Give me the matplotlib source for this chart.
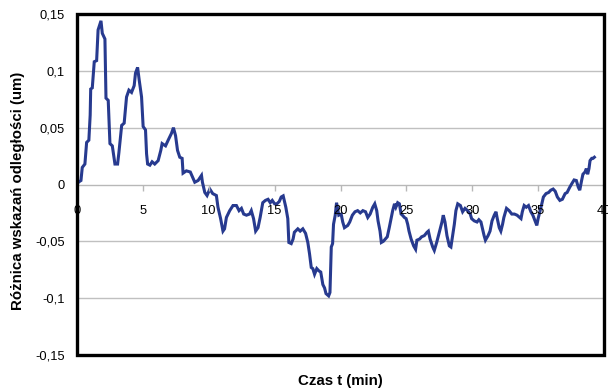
import matplotlib
matplotlib.use("Agg")
import matplotlib.pyplot as plt
from matplotlib.patches import Rectangle

time_min = [0.0, 0.1, 0.3, 0.4, 0.6, 0.73, 0.9, 1.0, 1.04, 1.16, 1.31, 1.49, 1.6, 1.82, 1.92, 2.12,
            2.2, 2.37, 2.5, 2.68, 2.88, 3.08, 3.18, 3.39, 3.58, 3.76, 3.94, 4.14, 4.34, 4.44, 4.6, 4.72,
            4.9, 5.02, 5.2, 5.28, 5.36, 5.53, 5.7, 5.9, 6.16, 6.36, 6.46, 6.72, 6.92, 7.17, 7.32, 7.48,
            7.63, 7.8, 7.98, 8.05, 8.3, 8.6, 8.94, 9.19, 9.45, 9.52, 9.7, 9.87, 10.08, 10.3, 10.58, 10.7,
            10.9, 11.08, 11.2, 11.34, 11.59, 11.84, 12.1, 12.3, 12.48, 12.65, 12.86, 13.1, 13.23, 13.4, 13.56, 13.74,
            13.9, 14.1, 14.3, 14.5, 14.67, 14.82, 15.0, 15.17, 15.35, 15.5, 15.65, 15.85, 16.0, 16.08, 16.26, 16.4,
            16.5, 16.76, 16.94, 17.14, 17.35, 17.52, 17.65, 17.78, 17.9, 18.03, 18.2, 18.36, 18.5, 18.66, 18.79, 18.9,
            19.1, 19.2, 19.3, 19.4, 19.47, 19.6, 19.7, 19.87, 20.05, 20.17, 20.3, 20.55, 20.7, 20.8, 20.9, 21.1,
            21.3, 21.5, 21.7, 21.9, 22.07, 22.25, 22.45, 22.6, 22.75, 22.85, 23.0, 23.1, 23.25, 23.4, 23.55, 23.7,
            23.84, 23.96, 24.1, 24.2, 24.34, 24.47, 24.6, 24.7, 24.85, 24.98, 25.1, 25.2, 25.36, 25.55, 25.7, 25.8,
            26.0, 26.16, 26.36, 26.57, 26.67, 26.8, 27.0, 27.12, 27.3, 27.5, 27.7, 27.8, 27.93, 28.08, 28.26, 28.38,
            28.5, 28.64, 28.76, 28.9, 29.1, 29.27, 29.45, 29.65, 29.85, 29.95, 30.15, 30.36, 30.5, 30.66, 30.78, 30.9,
            31.0, 31.2, 31.35, 31.5, 31.67, 31.8, 31.9, 32.05, 32.17, 32.3, 32.4, 32.6, 32.8, 33.0, 33.2, 33.4,
            33.6, 33.7, 33.8, 33.94, 34.1, 34.27, 34.45, 34.6, 34.77, 34.9, 35.0, 35.13, 35.28, 35.4, 35.6, 35.8,
            35.96, 36.14, 36.3, 36.46, 36.65, 36.84, 37.05, 37.2, 37.4, 37.55, 37.73, 37.9, 38.05, 38.16, 38.3, 38.4,
            38.56, 38.66, 38.76, 38.86, 38.94, 39.07, 39.17, 39.27]

diff_um = [0.0, 0.002, 0.0035, 0.015, 0.018, 0.037, 0.039, 0.061, 0.084, 0.085, 0.108, 0.109, 0.136, 0.144, 0.133, 0.128,
           0.076, 0.074, 0.036, 0.034, 0.018, 0.018, 0.028, 0.052, 0.054, 0.077, 0.083, 0.081, 0.087, 0.098, 0.103, 0.092,
           0.077, 0.051, 0.048, 0.027, 0.018, 0.017, 0.020, 0.018, 0.021, 0.030, 0.036, 0.034, 0.039, 0.045, 0.050, 0.043,
           0.030, 0.024, 0.023, 0.010, 0.012, 0.011, 0.002, 0.0035, 0.008, 0.002, -0.007, -0.0097, -0.004, -0.008, -0.0097, -0.020,
           -0.030, -0.041, -0.039, -0.029, -0.023, -0.0185, -0.0185, -0.023, -0.021, -0.026, -0.027, -0.026, -0.023, -0.030, -0.041, -0.038,
           -0.029, -0.016, -0.014, -0.013, -0.016, -0.014, -0.017, -0.017, -0.015, -0.011, -0.010, -0.020, -0.030, -0.051, -0.052, -0.048,
           -0.042, -0.039, -0.041, -0.039, -0.043, -0.051, -0.061, -0.073, -0.074, -0.079, -0.074, -0.076, -0.077, -0.088, -0.091, -0.096,
           -0.098, -0.095, -0.055, -0.052, -0.035, -0.027, -0.016, -0.027, -0.026, -0.033, -0.038, -0.036, -0.033, -0.030, -0.027, -0.024,
           -0.023, -0.025, -0.023, -0.024, -0.029, -0.026, -0.020, -0.017, -0.023, -0.032, -0.041, -0.051, -0.050, -0.048, -0.046, -0.038,
           -0.030, -0.023, -0.017, -0.020, -0.016, -0.017, -0.026, -0.027, -0.029, -0.030, -0.035, -0.041, -0.048, -0.054, -0.057, -0.049,
           -0.048, -0.046, -0.045, -0.042, -0.041, -0.048, -0.055, -0.058, -0.051, -0.042, -0.033, -0.027, -0.033, -0.045, -0.054, -0.055,
           -0.046, -0.035, -0.023, -0.017, -0.0185, -0.024, -0.021, -0.023, -0.026, -0.030, -0.032, -0.033, -0.031, -0.033, -0.039, -0.045,
           -0.049, -0.045, -0.041, -0.032, -0.027, -0.024, -0.030, -0.038, -0.041, -0.035, -0.029, -0.021, -0.023, -0.026, -0.026, -0.027,
           -0.029, -0.030, -0.024, -0.0185, -0.020, -0.0185, -0.024, -0.027, -0.032, -0.036, -0.030, -0.024, -0.017, -0.011, -0.008, -0.007,
           -0.005, -0.004, -0.006, -0.011, -0.014, -0.013, -0.008, -0.007, -0.0024, 0.0006, 0.004, 0.0035, -0.0024, -0.005, 0.0035, 0.009,
           0.011, 0.014, 0.009, 0.014, 0.021, 0.023, 0.023, 0.024]

x_ticks = [0, 5, 10, 15, 20, 25, 30, 35, 40]
y_ticks = [-0.15, -0.1, -0.05, 0, 0.05, 0.1, 0.15]
y_tick_labels = ["-0,15", "-0,1", "-0,05", "0", "0,05", "0,1", "0,15"]

plt.rcParams['font.family'] = ['Liberation Sans', 'DejaVu Sans']

fig = plt.figure(figsize=(6.08, 3.89), dpi=100)
ax = fig.add_axes([77/608, 1 - 355/389, (604 - 77)/608, (355 - 14)/389])

ax.plot(time_min, diff_um, color='#273A8F', lw=2.2, zorder=2, solid_joinstyle='miter')

ax.set_xlim(0, 40)
ax.set_ylim(-0.15, 0.15)
ax.set_yticks(y_ticks)
ax.set_yticklabels(y_tick_labels)
ax.set_xticks(x_ticks)
ax.set_xticklabels([str(v) for v in x_ticks])

for y in y_ticks[1:-1]:
    if y != 0:
        ax.axhline(y, color='#C0C0C0', lw=1.0, zorder=1)

for s in ['top', 'right', 'left']:
    ax.spines[s].set_visible(False)
ax.spines['bottom'].set_position(('data', 0))
ax.spines['bottom'].set_color('#B8B8B8')
ax.spines['bottom'].set_linewidth(1.0)
ax.spines['bottom'].set_zorder(1)

ax.tick_params(axis='x', direction='out', length=4, width=1, color='#B8B8B8',
               labelsize=9.3, pad=10.5, labelcolor='black')
ax.tick_params(axis='y', length=0, labelsize=9.3, pad=9)
ax.xaxis.set_zorder(3)

ax.add_patch(Rectangle((0, 0), 1, 1, transform=ax.transAxes, fill=False,
                       edgecolor='black', lw=2.4, clip_on=False, zorder=4))

fig.text(340/608, 1 - 381/389, "Czas t (min)", ha='center', va='center',
         fontsize=10.8, fontweight='bold')
fig.text(18/608, 1 - 191/389, "Różnica wskazań odległości (um)", ha='center', va='center',
         rotation=90, fontsize=10.8, fontweight='bold')

fig.savefig("out.png", dpi=100)
